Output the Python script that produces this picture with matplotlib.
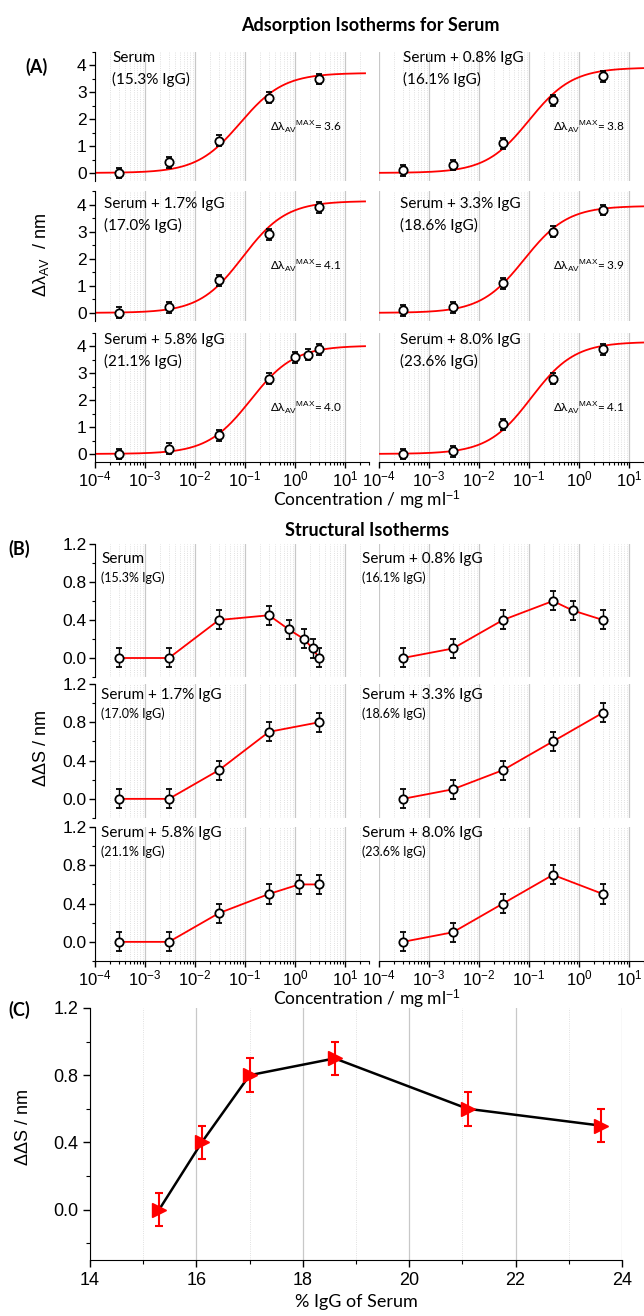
import numpy as np
import matplotlib.pyplot as plt
from matplotlib.ticker import LogLocator, MultipleLocator, NullFormatter, FormatStrFormatter

plt.rcParams['font.family'] = ['Liberation Sans', 'DejaVu Sans']
plt.rcParams['mathtext.fontset'] = 'custom'
plt.rcParams['mathtext.rm'] = 'Liberation Sans'
plt.rcParams['mathtext.it'] = 'Liberation Sans:italic'
plt.rcParams['mathtext.bf'] = 'Liberation Sans:bold'

W, H = 644, 1316

# ---------------- data (A) adsorption isotherms ----------------
conc = [3e-4, 3e-3, 3e-2, 0.3, 3.0]
names = ["Serum", "Serum + 0.8% IgG", "Serum + 1.7% IgG",
         "Serum + 3.3% IgG", "Serum + 5.8% IgG", "Serum + 8.0% IgG"]
pct = ["(15.3% IgG)", "(16.1% IgG)", "(17.0% IgG)",
       "(18.6% IgG)", "(21.1% IgG)", "(23.6% IgG)"]
ads_x = [conc, conc, conc, conc, [3e-4, 3e-3, 3e-2, 0.3, 1.0, 1.8, 3.0], conc]
ads_y = [[0.0, 0.4, 1.2, 2.8, 3.5],
         [0.1, 0.3, 1.1, 2.7, 3.6],
         [0.0, 0.2, 1.2, 2.9, 3.9],
         [0.1, 0.2, 1.1, 3.0, 3.8],
         [0.0, 0.2, 0.7, 2.8, 3.6, 3.7, 3.9],
         [0.0, 0.1, 1.1, 2.8, 3.9]]
ads_err = 0.2
# Langmuir fit parameters (Bmax, Kd)
fit_bmax = [3.72, 3.92, 4.13, 3.95, 4.03, 4.17]
fit_kd = [0.08, 0.10, 0.09, 0.08, 0.13, 0.11]
max_lab = ["3.6", "3.8", "4.1", "3.9", "4.0", "4.1"]

# ---------------- data (B) structural isotherms ----------------
str_x = [[3e-4, 3e-3, 3e-2, 0.3, 0.75, 1.5, 2.25, 3.0],
         [3e-4, 3e-3, 3e-2, 0.3, 0.75, 3.0],
         conc,
         conc,
         [3e-4, 3e-3, 3e-2, 0.3, 1.2, 3.0],
         conc]
str_y = [[0.0, 0.0, 0.4, 0.45, 0.3, 0.2, 0.1, 0.0],
         [0.0, 0.1, 0.4, 0.6, 0.5, 0.4],
         [0.0, 0.0, 0.3, 0.7, 0.8],
         [0.0, 0.1, 0.3, 0.6, 0.9],
         [0.0, 0.0, 0.3, 0.5, 0.6, 0.6],
         [0.0, 0.1, 0.4, 0.7, 0.5]]
str_err = 0.1

# ---------------- data (C) ----------------
igg_pct = [15.3, 16.1, 17.0, 18.6, 21.1, 23.6]
dds = [0.0, 0.4, 0.8, 0.9, 0.6, 0.5]
dds_err = 0.1

fig = plt.figure(figsize=(W / 100, H / 100), dpi=100)


def px_axes(x0, y0, x1, y1):
    return fig.add_axes([x0 / W, 1 - y1 / H, (x1 - x0) / W, (y1 - y0) / H])


def ftext(x, y, s, **kw):
    fig.text(x / W, 1 - y / H, s, **kw)


def style_log(ax, r, c, nrows):
    ax.set_xscale('log')
    ax.set_xlim(1e-4, 30)
    ax.xaxis.set_major_locator(LogLocator(base=10, numticks=12))
    ax.xaxis.set_minor_locator(LogLocator(base=10, subs=np.arange(2, 10), numticks=12))
    ax.xaxis.set_minor_formatter(NullFormatter())
    ax.grid(axis='x', which='major', color='#c8c8c8', lw=0.9)
    ax.grid(axis='x', which='minor', color='#d6d6d6', lw=0.6, ls=':')
    ax.set_axisbelow(True)
    ax.patch.set_alpha(0)
    for s in ['top', 'right']:
        ax.spines[s].set_visible(False)
    ax.spines['left'].set_visible(c == 0)
    ax.spines['bottom'].set_visible(r == nrows - 1)
    ax.tick_params(which='major', length=4, width=1, labelsize=12.5, pad=2)
    ax.tick_params(axis='x', which='major', labelsize=12, pad=1.5)
    ax.tick_params(which='minor', length=2, width=0.8)
    if r != nrows - 1:
        ax.tick_params(axis='x', which='both', bottom=False, labelbottom=False)
    if c == 1:
        ax.tick_params(axis='y', which='both', left=False, labelleft=False)


cols = [(95, 369), (379, 653)]
lato = ['Lato', 'DejaVu Sans']

# ---------------- panel A ----------------
rows_a = [(52, 181), (191, 321), (333, 462)]
ftext(370, 25, "Adsorption Isotherms for Serum", ha='center', va='center',
      fontsize=13, fontweight='bold', family=lato)
ftext(37, 67, "(A)", ha='center', va='center', fontsize=13, fontweight='bold', family=lato)
name_y_a = [58, 204, 340]
for i in range(6):
    r, c = divmod(i, 2)
    ax = px_axes(cols[c][0], rows_a[r][0], cols[c][1], rows_a[r][1])
    style_log(ax, r, c, 3)
    ax.set_ylim(-0.3, 4.5)
    ax.yaxis.set_major_locator(MultipleLocator(1))
    ax.yaxis.set_minor_locator(MultipleLocator(0.5))
    cc = np.logspace(-4, np.log10(25), 300)
    ax.plot(cc, fit_bmax[i] * cc / (fit_kd[i] + cc), color='red', lw=1.3, zorder=2)
    ax.errorbar(ads_x[i], ads_y[i], yerr=ads_err, fmt='o', mfc='white', mec='black',
                mew=1.3, ms=6, ecolor='black', elinewidth=1, capsize=2, zorder=3)
    tx = 112 if c == 0 else 403
    if r > 0:
        tx -= 8 if c == 0 else 3
    ftext(tx, name_y_a[r], names[i], va='center', fontsize=11, family=lato)
    ftext(tx, name_y_a[r] + 21, pct[i], va='center', fontsize=11, family=lato)
    ax.text(0.32 if c == 0 else 0.30, 1.75,
            r'Δλ$_{\rm AV}{}^{\rm MAX}$= ' + max_lab[i],
            fontsize=8.5, va='center', family=lato)
ftext(367, 500, r'Concentration / mg ml$^{-1}$', ha='center', va='center',
      fontsize=12.5, family=lato)
ftext(41, 255, r'Δλ$_{\rm AV}$  / nm', ha='center', va='center',
      rotation=90, fontsize=13)

# ---------------- panel B ----------------
rows_b = [(544, 677), (684, 818), (827, 961)]
ftext(367, 531, "Structural Isotherms", ha='center', va='center',
      fontsize=13, fontweight='bold', family=lato)
ftext(19, 549, "(B)", ha='center', va='center', fontsize=13, fontweight='bold', family=lato)
name_y_b = [559, 695, 833]
for i in range(6):
    r, c = divmod(i, 2)
    ax = px_axes(cols[c][0], rows_b[r][0], cols[c][1], rows_b[r][1])
    style_log(ax, r, c, 3)
    ax.set_ylim(-0.2, 1.2)
    ax.yaxis.set_major_locator(MultipleLocator(0.4))
    ax.yaxis.set_minor_locator(MultipleLocator(0.2))
    ax.yaxis.set_major_formatter(FormatStrFormatter('%.1f'))
    ax.plot(str_x[i], str_y[i], color='red', lw=1.3, zorder=2)
    ax.errorbar(str_x[i], str_y[i], yerr=str_err, fmt='o', mfc='white', mec='black',
                mew=1.3, ms=6, ecolor='black', elinewidth=1, capsize=2, zorder=3)
    tx = 101 if c == 0 else 362
    ftext(tx, name_y_b[r], names[i], va='center', fontsize=11, family=lato)
    ftext(tx, name_y_b[r] + 19, pct[i], va='center', fontsize=9, family=lato)
ftext(367, 999, r'Concentration / mg ml$^{-1}$', ha='center', va='center',
      fontsize=12.5, family=lato)
ftext(41, 748, 'ΔΔS / nm', ha='center', va='center', rotation=90, fontsize=13)

# ---------------- panel C ----------------
ftext(19, 1010, "(C)", ha='center', va='center', fontsize=13, fontweight='bold', family=lato)
ax = px_axes(90, 1008, 622, 1260)
ax.set_xlim(14, 24)
ax.set_ylim(-0.3, 1.2)
ax.xaxis.set_major_locator(MultipleLocator(2))
ax.xaxis.set_minor_locator(MultipleLocator(1))
ax.yaxis.set_major_locator(MultipleLocator(0.4))
ax.yaxis.set_minor_locator(MultipleLocator(0.2))
ax.yaxis.set_major_formatter(FormatStrFormatter('%.1f'))
ax.grid(axis='x', which='major', color='#c8c8c8', lw=0.9)
ax.grid(axis='x', which='minor', color='#d6d6d6', lw=0.6, ls=':')
ax.set_axisbelow(True)
for s in ['top', 'right']:
    ax.spines[s].set_visible(False)
ax.tick_params(which='major', length=5, width=1, labelsize=13)
ax.tick_params(which='minor', length=3, width=0.8)
ax.plot(igg_pct, dds, color='black', lw=1.8, zorder=2)
ax.errorbar(igg_pct, dds, yerr=dds_err, fmt='>', color='red', ms=10,
            ecolor='red', elinewidth=1.5, capsize=3, capthick=1.5, zorder=3)
ax.set_xlabel("% IgG of Serum", fontsize=13, family=lato, labelpad=4)
ftext(23, 1127, 'ΔΔS / nm', ha='center', va='center', rotation=90, fontsize=13)

fig.savefig("out.png", dpi=100)
